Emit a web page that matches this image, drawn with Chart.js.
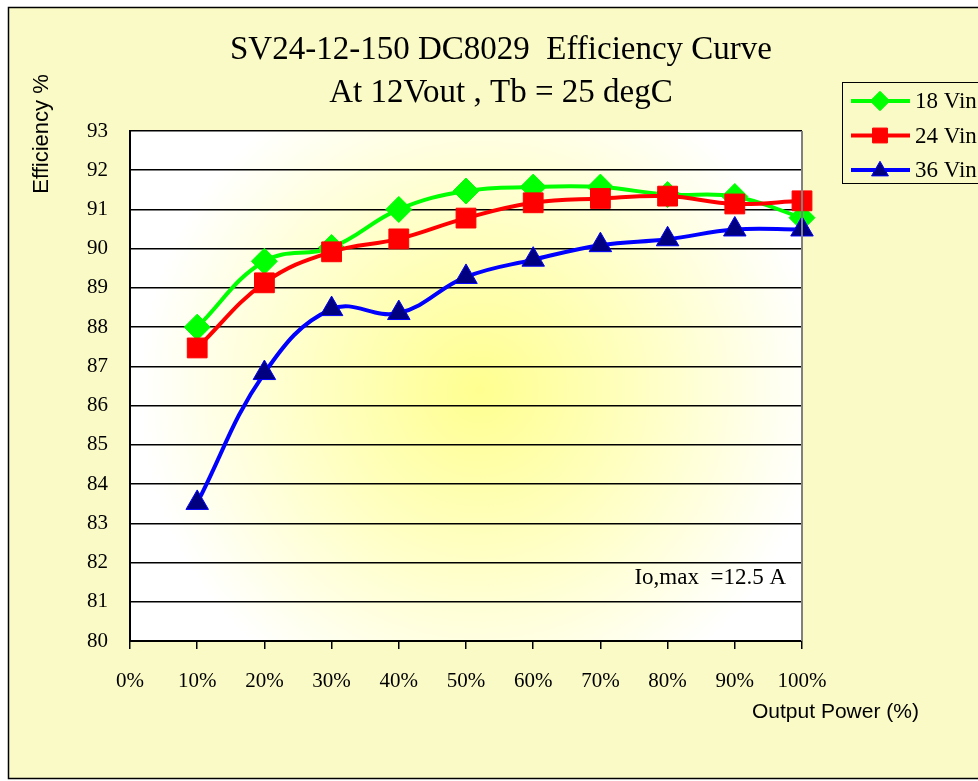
<!DOCTYPE html>
<html>
<head>
<meta charset="utf-8">
<script src="https://cdn.jsdelivr.net/npm/chart.js@4/dist/chart.umd.min.js"></script>
<style>
  html, body { margin: 0; padding: 0; background: #fff; }
  #wrap { width: 978px; height: 781px; }
</style>
</head>
<body>
<div id="wrap"><canvas id="grafico" width="978" height="781"></canvas></div>
<script>
// valores
var cargas = ['0%', '10%', '20%', '30%', '40%', '50%', '60%', '70%', '80%', '90%', '100%'];
var vin18 = [null, 88.0, 89.68, 90.03, 91.0, 91.47, 91.57, 91.57, 91.38, 91.33, 90.79];
var vin24 = [null, 87.47, 89.13, 89.92, 90.25, 90.78, 91.17, 91.28, 91.34, 91.14, 91.22];
var vin36 = [null, 83.52, 86.83, 88.46, 88.36, 89.28, 89.72, 90.09, 90.24, 90.49, 90.49];
var titulo = ['SV24-12-150 DC8029  Efficiency Curve', 'At 12Vout , Tb = 25 degC'];
var legendas = ['18 Vin', '24 Vin', '36 Vin'];
var nota = 'Io,max  =12.5 A';

var serif = '"Liberation Serif", "DejaVu Serif", serif';
var sans = '"Liberation Sans", Arial, sans-serif';

var fundo = {
    id: 'fundo',
    beforeDraw: function (chart) {
        var ctx = chart.ctx, a = chart.chartArea;
        ctx.save();
        ctx.fillStyle = '#fff';
        ctx.fillRect(0, 0, chart.width, chart.height);
        ctx.fillStyle = '#FAFAC6';
        ctx.fillRect(8, 7, 990, 771);
        ctx.strokeStyle = '#000';
        ctx.lineWidth = 1.5;
        ctx.strokeRect(8.5, 7.5, 990, 771);
        // degrade do painel
        var g = ctx.createRadialGradient(480, 390, 0, 480, 390, 340);
        g.addColorStop(0, '#FFFF90');
        g.addColorStop(0.45, '#FFFFC0');
        g.addColorStop(1, '#FFFFFF');
        ctx.fillStyle = g;
        ctx.fillRect(a.left, a.top, a.right - a.left, a.bottom - a.top);
        ctx.restore();
    },
    afterDatasetsDraw: function (chart) {
        var ctx = chart.ctx, a = chart.chartArea;
        ctx.save();
        // borda direita cinza
        ctx.strokeStyle = '#808080';
        ctx.lineWidth = 2;
        ctx.beginPath();
        ctx.moveTo(a.right, a.top);
        ctx.lineTo(a.right, a.bottom);
        ctx.stroke();
        // titulos
        ctx.fillStyle = '#000';
        ctx.textAlign = 'center';
        ctx.textBaseline = 'middle';
        ctx.font = '33px ' + serif;
        ctx.fillText(titulo[0], 501, 50);
        ctx.fillText(titulo[1], 501, 93);
        // eixo y
        ctx.save();
        ctx.translate(42, 134);
        ctx.rotate(-Math.PI / 2);
        ctx.font = '22px ' + sans;
        ctx.fillText('Efficiency %', 0, 0);
        ctx.restore();
        // eixo x
        ctx.textAlign = 'left';
        ctx.font = '21px ' + sans;
        ctx.fillText('Output Power (%)', 752, 712);
        // nota
        ctx.textAlign = 'right';
        ctx.font = '23px ' + serif;
        ctx.fillText(nota, 786, 578);
        // legenda
        ctx.fillStyle = '#FAFAC6';
        ctx.fillRect(842, 82, 200, 101);
        ctx.strokeStyle = '#000';
        ctx.lineWidth = 1;
        ctx.strokeRect(842.5, 82.5, 200, 101);
        chart.data.datasets.forEach(function (ds, i) {
            var y = 101 + i * 34.5;
            ctx.strokeStyle = ds.borderColor;
            ctx.lineWidth = 4;
            ctx.beginPath();
            ctx.moveTo(851, y);
            ctx.lineTo(910, y);
            ctx.stroke();
            ctx.fillStyle = ds.pointBackgroundColor;
            ctx.strokeStyle = ds.pointBorderColor;
            ctx.lineWidth = 1;
            Chart.helpers.drawPoint(ctx, {
                pointStyle: ds.pointStyle,
                radius: ds.pointRadius * 0.75,
                borderWidth: 1
            }, 880, y + (ds.pointStyle === 'triangle' ? 1 : 0));
            ctx.fillStyle = '#000';
            ctx.textAlign = 'left';
            ctx.font = '23px ' + serif;
            ctx.fillText(legendas[i], 915, y + 1);
        });
        ctx.restore();
    }
};

function serie(label, dados, cor, ponto, corPonto, raio, ordem) {
    return {
        label: label,
        data: dados,
        order: ordem,
        borderColor: cor,
        borderWidth: 4,
        tension: 0.4,
        pointStyle: ponto,
        pointRadius: raio,
        pointBackgroundColor: corPonto,
        pointBorderColor: ponto === 'triangle' ? cor : corPonto,
        pointBorderWidth: 1,
        spanGaps: true
    };
}

new Chart(document.getElementById('grafico'), {
    type: 'line',
    data: {
        labels: cargas,
        datasets: [
            serie(legendas[0], vin18, '#00FF00', 'rectRot', '#00FF00', 13, 3),
            serie(legendas[1], vin24, '#FF0000', 'rect', '#FF0000', 14, 2),
            serie(legendas[2], vin36, '#0000FF', 'triangle', '#000080', 13, 1)
        ]
    },
    options: {
        responsive: false,
        animation: false,
        clip: false,
        layout: { padding: { top: 131, right: 176, left: 0, bottom: 0 } },
        plugins: {
            legend: { display: false },
            title: { display: false },
            tooltip: { enabled: false }
        },
        scales: {
            x: {
                offset: false,
                afterFit: function (s) { s.height = 140; },
                grid: { drawOnChartArea: false, drawTicks: true, tickLength: 8, color: '#000', lineWidth: 1.5 },
                border: { color: '#000', width: 2 },
                ticks: {
                    color: '#000', padding: 20, maxRotation: 0, autoSkip: false,
                    font: { family: serif, size: 21 }
                }
            },
            y: {
                min: 80, max: 93,
                afterFit: function (s) { s.width = 130; },
                grid: { drawTicks: false, color: '#000', lineWidth: 1.5 },
                border: { color: '#000', width: 2 },
                ticks: {
                    stepSize: 1, color: '#000', padding: 22,
                    font: { family: serif, size: 21 }
                }
            }
        }
    },
    plugins: [fundo]
});
</script>
</body>
</html>
